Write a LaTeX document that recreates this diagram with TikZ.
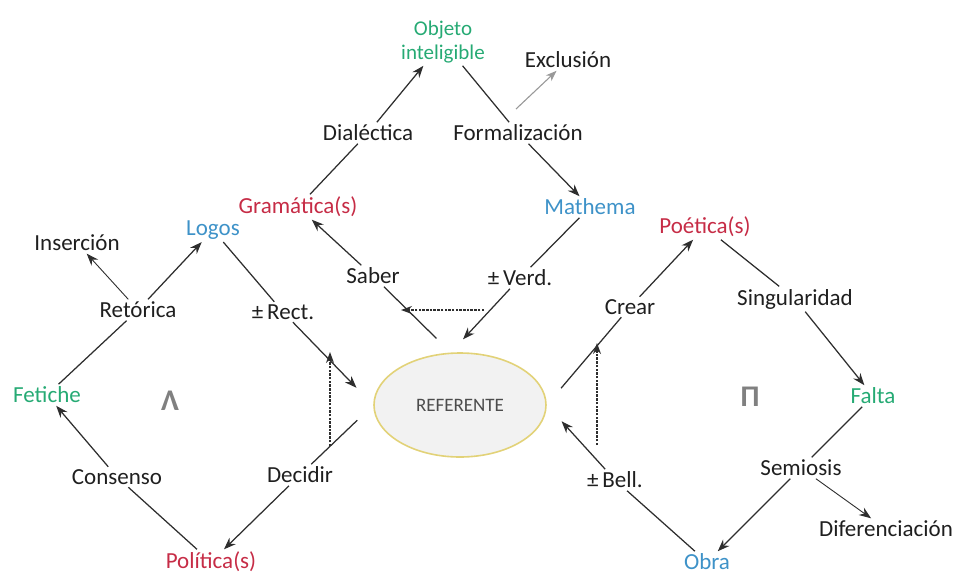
\documentclass[tikz,border=0pt]{standalone}
\usepackage{fontspec}
\setmainfont{Carlito}
\usetikzlibrary{arrows.meta,shapes.geometric}
\definecolor{cred}{RGB}{198,44,70}
\definecolor{cblue}{RGB}{62,146,200}
\definecolor{cgreen}{RGB}{38,170,116}
\definecolor{efill}{RGB}{242,242,242}
\definecolor{eline}{RGB}{226,210,120}
\begin{document}
\begin{tikzpicture}[x=1pt,y=-1pt,
  lbl/.style={font=\fontsize{23}{24}\selectfont, text=black!88, inner sep=2.5pt},
  redl/.style={lbl, text=cred},
  bluel/.style={lbl, text=cblue},
  greenl/.style={lbl, text=cgreen},
  ln/.style={draw=black!82, line width=1.25pt},
  arr/.style={ln, -{Stealth[length=12pt,width=9pt]}},
  garr/.style={draw=black!40, line width=1.1pt, -{Stealth[length=11pt,width=8pt]}},
  darr/.style={draw=black!82, line width=1.1pt, dash pattern=on 2.5pt off 1.2pt, -{Stealth[length=11pt,width=8pt]}},
  sym/.style={font=\fontsize{30}{32}\selectfont\bfseries, text=black!50}
]
\useasboundingbox (0,0) rectangle (959,574);
% nodes
\node[greenl, align=center, font=\fontsize{21}{24}\selectfont] (obj) at (443,42) {Objeto\\inteligible};
\node[lbl] (excl) at (568,60) {Exclusión};
\node[lbl] (dial) at (368,133) {Dialéctica};
\node[lbl] (form) at (518,133) {Formalización};
\node[redl] (gram) at (298,207) {Gramática(s)};
\node[bluel] (math) at (590,207) {Mathema};
\node[bluel] (logos) at (213,230) {Logos};
\node[lbl] (ins) at (77,243) {Inserción};
\node[redl] (poet) at (705,227) {Poética(s)};
\node[lbl] (saber) at (373,276) {Saber};
\node[lbl] (verd) at (520,278) {±\,Verd.};
\node[lbl] (ret) at (138,310) {Retórica};
\node[lbl] (rect) at (283,312) {±\,Rect.};
\node[lbl] (crear) at (630,307) {Crear};
\node[lbl] (sing) at (795,299) {Singularidad};
\node[greenl] (fet) at (47,395) {Fetiche};
\node[sym] (lam) at (170,401) {Λ};
\node[draw=eline, line width=1.6pt, fill=efill, ellipse, minimum width=172pt, minimum height=104pt, inner sep=0pt, font=\fontsize{19}{20}\selectfont, text=black!70] (ref) at (460,405) {REFERENTE};
\node[sym] (pi) at (750,397) {Π};
\node[greenl] (falta) at (873,396) {Falta};
\node[lbl] (cons) at (117,477) {Consenso};
\node[lbl] (dec) at (300,475) {Decidir};
\node[lbl] (bell) at (615,480) {±\,Bell.};
\node[lbl] (sem) at (801,468) {Semiosis};
\node[lbl] (dif) at (886,529) {Diferenciación};
\node[redl] (pol) at (211,562) {Política(s)};
\node[bluel] (obra) at (707,562) {Obra};
% top triangle
\draw[ln] (gram) -- (dial);
\draw[arr] (dial) -- (obj);
\draw[ln] (obj) -- (form);
\draw[arr] (form) -- (math);
\coordinate (fx) at (516,109);
\draw[garr] (fx) -- (excl);
\draw[ln, shorten <=20pt] (ref.100) -- (saber);
\draw[arr] (saber) -- (gram);
\draw[ln] (math) -- (verd);
\draw[arr, shorten >=18pt] (verd) -- (ref.100);
% left diamond
\draw[ln] (logos) -- (rect);
\draw[arr, shorten >=24pt] (rect) -- (ref.west);
\draw[ln, shorten <=22pt] (ref.west) -- (dec);
\draw[arr] (dec) -- (pol);
\draw[ln] (pol) -- (cons);
\draw[arr] (cons) -- (fet);
\draw[ln] (fet) -- (ret);
\draw[arr] (ret) -- (logos);
\draw[arr, line width=0.9pt] (ret) -- (ins);
% right diamond
\draw[ln, shorten <=22pt] (ref.east) -- (crear);
\draw[arr] (crear) -- (poet);
\draw[ln] (poet) -- (sing);
\draw[arr] (sing) -- (falta);
\draw[ln] (falta) -- (sem);
\draw[arr] (sem) -- (obra);
\draw[arr, line width=0.9pt] (sem) -- (dif);
\draw[ln] (obra) -- (bell);
\draw[arr, shorten >=22pt] (bell) -- (ref.east);
% dashed arrows
\coordinate (d1s) at (484,310);
\coordinate (d1e) at (401,310);
\draw[darr] (d1s) -- (d1e);
\coordinate (d2s) at (330,446);
\coordinate (d2e) at (330,352);
\draw[darr] (d2s) -- (d2e);
\coordinate (d3s) at (597,445);
\coordinate (d3e) at (597,343);
\draw[darr] (d3s) -- (d3e);
\end{tikzpicture}
\end{document}
